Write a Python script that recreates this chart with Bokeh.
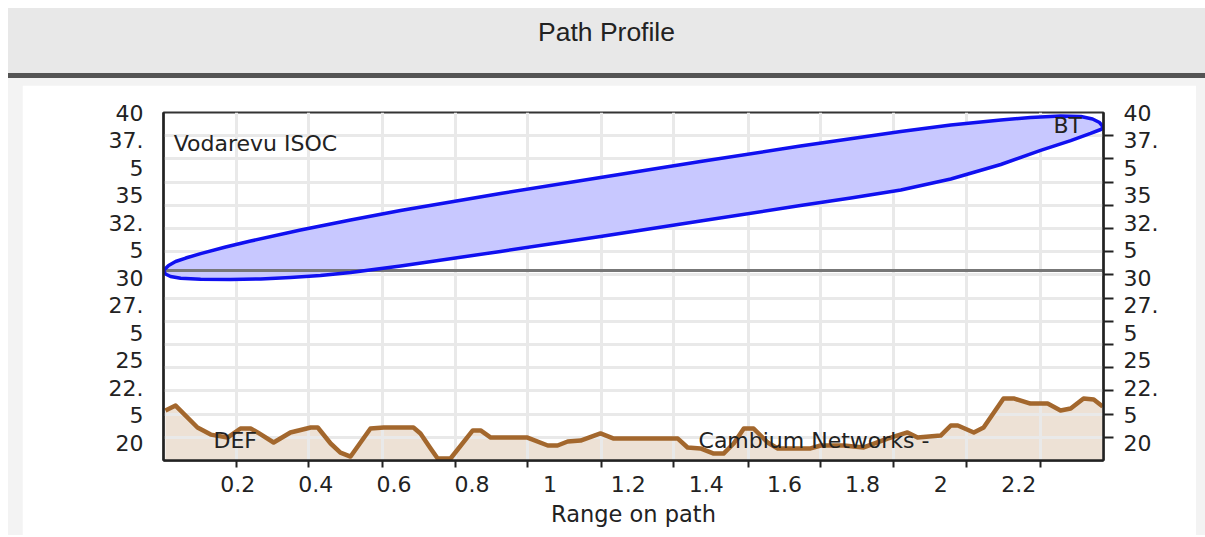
from bokeh.plotting import figure
from bokeh.models import Range1d, FixedTicker, LinearAxis, Div
from bokeh.layouts import column
from bokeh.core.properties import value
from bokeh.embed import file_html
from bokeh.resources import INLINE

# ---------------- data ----------------
title_text = "Path Profile"
x_axis_title = "Range on path"

x_start, x_end = 0.01, 2.417
y_bottom, y_top = 18.91, 40.0

x_tick_labels = [0.2, 0.4, 0.6, 0.8, 1.0, 1.2, 1.4, 1.6, 1.8, 2.0, 2.2]
x_tick_marks = [0.197, 0.382, 0.571, 0.758, 0.942, 1.132, 1.316, 1.508,
                1.693, 1.880, 2.067, 2.256]
y_tick_labels = [40, 37.5, 35, 32.5, 30, 27.5, 25, 22.5, 20]
y_tick_marks = [38.59, 37.19, 35.78, 34.38, 32.97, 31.56, 30.16, 28.75,
                27.35, 25.94, 24.53, 23.13, 21.72, 20.32]

terrain_x = [0.015, 0.041, 0.097, 0.131, 0.174, 0.207, 0.233, 0.251, 0.292,
             0.335, 0.387, 0.405, 0.438, 0.463, 0.489, 0.540, 0.574, 0.650,
             0.668, 0.694, 0.712, 0.745, 0.802, 0.822, 0.848, 0.942, 0.994,
             1.019, 1.045, 1.078, 1.129, 1.163, 1.327, 1.352, 1.385, 1.419,
             1.444, 1.470, 1.496, 1.521, 1.557, 1.583, 1.667, 1.693, 1.752,
             1.803, 1.864, 1.915, 1.941, 2.000, 2.026, 2.044, 2.085, 2.110,
             2.161, 2.187, 2.230, 2.274, 2.307, 2.333, 2.366, 2.392, 2.415]
terrain_y = [21.94, 22.24, 20.91, 20.48, 20.30, 20.85, 20.85, 20.61, 20.00,
             20.61, 20.91, 20.91, 19.94, 19.39, 19.15, 20.85, 20.91, 20.91,
             20.55, 19.64, 19.03, 19.03, 20.73, 20.73, 20.30, 20.30, 19.82,
             19.82, 20.06, 20.12, 20.55, 20.24, 20.24, 19.70, 19.64, 19.33,
             19.33, 19.94, 20.85, 20.85, 20.00, 19.64, 19.64, 19.82, 19.82,
             19.70, 20.24, 20.61, 20.30, 20.42, 21.03, 21.03, 20.61, 20.91,
             22.67, 22.67, 22.36, 22.36, 21.94, 22.06, 22.67, 22.61, 22.18]

fresnel_upper_x = [0.010, 0.023, 0.041, 0.067, 0.105, 0.169, 0.233, 0.361,
                   0.489, 0.617, 0.873, 1.129, 1.385, 1.641, 1.898, 2.026,
                   2.154, 2.230, 2.307, 2.359, 2.389, 2.407, 2.417]
fresnel_upper_y = [30.42, 30.73, 30.97, 31.18, 31.45, 31.85, 32.21, 32.88,
                   33.48, 34.06, 35.09, 36.06, 37.03, 37.97, 38.85, 39.24,
                   39.55, 39.70, 39.79, 39.76, 39.61, 39.39, 39.09]
fresnel_lower_x = [0.010, 0.015, 0.028, 0.054, 0.105, 0.182, 0.259, 0.335,
                   0.412, 0.489, 0.617, 0.873, 1.129, 1.385, 1.641, 1.770,
                   1.898, 2.026, 2.154, 2.256, 2.333, 2.384, 2.410, 2.417]
fresnel_lower_y = [30.42, 30.21, 30.06, 29.95, 29.89, 29.88, 29.91, 30.00,
                   30.12, 30.30, 30.70, 31.58, 32.48, 33.42, 34.36, 34.82,
                   35.30, 35.97, 36.85, 37.70, 38.30, 38.73, 38.97, 39.09]

los_x = [0.010, 2.417]
los_y = [30.42, 30.42]

site_labels = ["Vodarevu ISOC", "BT", "DEF", "Cambium Networks -"]
site_label_x = [0.036, 2.289, 0.138, 1.380]
site_label_y = [38.12, 39.21, 20.12, 20.12]

# ---------------- derived tick layout ----------------
DY = 5.0 / 6.0  # wrapped labels: half a text line in data units
y_ticks, y_overrides = [], {}
for v in y_tick_labels:
    s = f"{v:g}"
    if "." in s:
        for pos, txt in ((v + DY, s[:-1]), (v - DY, s[-1])):
            y_ticks.append(pos)
            y_overrides[pos] = txt
    else:
        y_ticks.append(float(v))
        y_overrides[float(v)] = s
x_overrides = {v: f"{v:g}" for v in x_tick_labels}

FONT = "DejaVu Sans"
TXT = "#222222"

p = figure(frame_width=940, frame_height=348,
           x_range=Range1d(x_start, x_end), y_range=Range1d(y_bottom, y_top),
           output_backend="svg", toolbar_location=None,
           min_border_left=141, min_border_right=93,
           min_border_top=27, min_border_bottom=75,
           background_fill_color="white", border_fill_color="white",
           margin=(7, 9, 0, 14))
p.outline_line_color = "#333333"
p.outline_line_width = 2

# terrain fill (below grid)
r_fill = p.varea(x=terrain_x, y1=[y_bottom] * len(terrain_x), y2=terrain_y,
                 fill_color="#ede1d5")
r_fill.level = "image"

# fresnel ellipse
ell_x = fresnel_upper_x + fresnel_lower_x[::-1]
ell_y = fresnel_upper_y + fresnel_lower_y[::-1]
p.patch(ell_x, ell_y, fill_color="#c8c8ff", line_color=None)
p.line(los_x, los_y, line_color="#777777", line_width=3)
p.line(ell_x, ell_y, line_color="#1010f0", line_width=3.5, line_join="round")

# terrain line
p.line(terrain_x, terrain_y, line_color="#a3672d", line_width=4.5,
       line_join="round")

p.text(x=site_label_x, y=site_label_y, text=site_labels,
       text_font=value(FONT), text_font_size="22px", text_color=TXT,
       text_baseline="middle", text_align="left")

# grid (minor ticks = grid positions)
for g in (p.xgrid, p.ygrid):
    g.grid_line_color = None
    g.minor_grid_line_color = "#e9e9e9"
    g.minor_grid_line_width = 3

# x axis
xa = p.xaxis[0]
xa.ticker = FixedTicker(ticks=x_tick_labels, minor_ticks=x_tick_marks)
xa.major_label_overrides = x_overrides
xa.major_tick_line_color = None
xa.major_tick_out = 0
xa.major_tick_in = 0
xa.minor_tick_line_color = "#222222"
xa.minor_tick_line_width = 2
xa.minor_tick_out = 7
xa.minor_tick_in = 0
xa.major_label_standoff = 8
xa.axis_line_color = "#222222"
xa.axis_line_width = 2.5
xa.axis_label = x_axis_title
xa.axis_label_standoff = 6

# left y axis (labels only)
ya = p.yaxis[0]
ya.ticker = FixedTicker(ticks=y_ticks, minor_ticks=y_tick_marks)
ya.major_label_overrides = y_overrides
ya.major_tick_line_color = None
ya.major_tick_out = 0
ya.major_tick_in = 0
ya.minor_tick_line_color = None
ya.major_label_standoff = 16
ya.axis_line_color = "#222222"
ya.axis_line_width = 2.5

# right y axis (labels + offset tick marks)
ra = LinearAxis(ticker=FixedTicker(ticks=y_ticks, minor_ticks=y_tick_marks),
                major_label_overrides=y_overrides,
                major_tick_line_color=None, major_tick_out=0, major_tick_in=0,
                minor_tick_line_color="#222222", minor_tick_line_width=2,
                minor_tick_out=10, minor_tick_in=0,
                major_label_standoff=10,
                axis_line_color="#222222", axis_line_width=2.5)
p.add_layout(ra, "right")

for ax in (xa, ya, ra):
    ax.major_label_text_font = FONT
    ax.major_label_text_font_size = "22px"
    ax.major_label_text_color = TXT
    ax.axis_label_text_font = FONT
    ax.axis_label_text_font_size = "22.5px"
    ax.axis_label_text_font_style = "normal"
    ax.axis_label_text_color = TXT

header = Div(text=title_text, width=1197, height=65, margin=0,
             styles={"background-color": "#e8e8e8", "text-align": "center",
                     "font-family": "Liberation Sans, Arial, sans-serif",
                     "font-size": "26.5px", "color": "#222222",
                     "line-height": "48px"})
rule = Div(text="", width=1197, height=5, margin=0,
           styles={"background-color": "#545454"})

layout = column(header, rule, p, spacing=0, margin=(8, 0, 0, 8),
                styles={"background-color": "#f3f3f3"})

open("out.html", "w").write(file_html(layout, INLINE))
